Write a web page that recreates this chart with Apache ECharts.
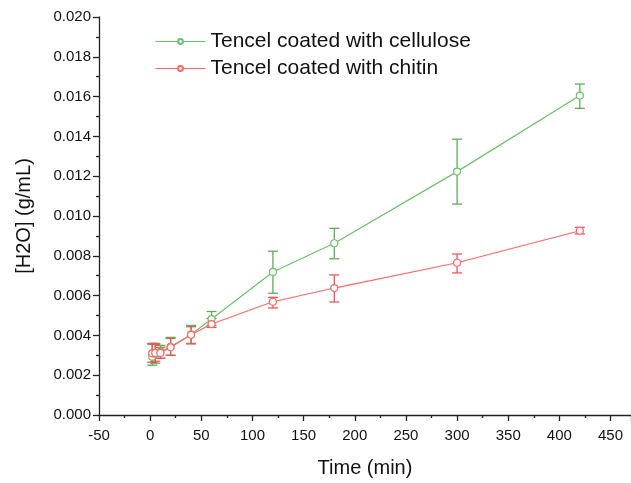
<!DOCTYPE html>
<html>
<head>
<meta charset="utf-8">
<script src="https://cdn.jsdelivr.net/npm/echarts@6/dist/echarts.min.js"></script>
<style>
  html, body { margin: 0; padding: 0; background: #fff; }
  #chart { width: 631px; height: 483px; }
</style>
</head>
<body>
<div id="chart"></div>
<script>
// time points (min)
const times = [2, 5, 10, 20, 40, 60, 120, 180, 300, 420];

// Tencel coated with cellulose
const celluloseMean = [0.00293, 0.00307, 0.00318, 0.00343, 0.00405, 0.00482, 0.00719, 0.00863, 0.01223, 0.01605];
const celluloseLow  = [0.00250, 0.00260, 0.00285, 0.00300, 0.00360, 0.00450, 0.00612, 0.00785, 0.01060, 0.01541];
const celluloseHigh = [0.00355, 0.00360, 0.00350, 0.00390, 0.00450, 0.00520, 0.00823, 0.00938, 0.01386, 0.01663];

// Tencel coated with chitin
const chitinMean = [0.00310, 0.00312, 0.00312, 0.00340, 0.00403, 0.00457, 0.00569, 0.00638, 0.00765, 0.00926];
const chitinLow  = [0.00265, 0.00270, 0.00285, 0.00300, 0.00357, 0.00440, 0.00538, 0.00568, 0.00714, 0.00910];
const chitinHigh = [0.00360, 0.00355, 0.00340, 0.00385, 0.00444, 0.00485, 0.00591, 0.00704, 0.00809, 0.00943];

const names = ['Tencel coated with cellulose', 'Tencel coated with chitin'];
const green = '#6cbf6c';
const red = '#ff6666';

const pairs = (ys) => times.map((t, i) => [t, ys[i]]);
const bars = (lo, hi) => times.map((t, i) => [t, lo[i], hi[i]]);

const errorBar = (name, color, lo, hi) => ({
    name: name + ' err',
    type: 'custom',
    z: 1,
    data: bars(lo, hi),
    encode: {x: 0, y: [1, 2]},
    renderItem: (params, api) => {
        const top = api.coord([api.value(0), api.value(2)]);
        const bot = api.coord([api.value(0), api.value(1)]);
        const w = 5;
        const style = {stroke: color, lineWidth: 1.3};
        return {
            type: 'group',
            children: [
                {type: 'line', shape: {x1: top[0], y1: top[1], x2: bot[0], y2: bot[1]}, style},
                {type: 'line', shape: {x1: top[0] - w, y1: top[1], x2: top[0] + w, y2: top[1]}, style},
                {type: 'line', shape: {x1: bot[0] - w, y1: bot[1], x2: bot[0] + w, y2: bot[1]}, style}
            ]
        };
    }
});

const lineSeries = (name, color, ys) => ({
    name,
    type: 'line',
    z: 3,
    data: pairs(ys),
    symbol: 'circle',
    symbolSize: 7,
    showAllSymbol: true,
    lineStyle: {color, width: 1.2},
    itemStyle: {color: '#fff', borderColor: color, borderWidth: 1.2}
});

const axisText = {color: '#111', fontFamily: 'Liberation Sans', fontSize: 15};
const axisCommon = {
    axisLine: {show: true, onZero: false, lineStyle: {color: '#222', width: 1.3}},
    axisTick: {show: true, inside: false, length: 6, lineStyle: {color: '#222', width: 1.3}},
    minorTick: {show: true, splitNumber: 2, length: 3, lineStyle: {color: '#222', width: 1.3}},
    splitLine: {show: false},
    nameTextStyle: {color: '#111', fontFamily: 'Liberation Sans', fontSize: 20}
};

const option = {
    animation: false,
    backgroundColor: '#fff',
    grid: {left: 99, right: 0, top: 17, bottom: 68},
    legend: {
        data: names,
        orient: 'vertical',
        left: 150,
        top: 26,
        itemGap: 6,
        itemWidth: 50,
        itemHeight: 6,
        lineStyle: {width: 1},
        textStyle: {color: '#111', fontFamily: 'Liberation Sans', fontSize: 21}
    },
    xAxis: {
        type: 'value',
        min: -50,
        max: 470,
        interval: 50,
        name: 'Time (min)',
        nameLocation: 'middle',
        nameGap: 43,
        axisLabel: Object.assign({margin: 13, showMaxLabel: false}, axisText),
        ...axisCommon
    },
    yAxis: {
        type: 'value',
        min: 0,
        max: 0.02,
        interval: 0.002,
        name: '[H2O] (g/mL)',
        nameLocation: 'middle',
        nameGap: 65,
        axisLabel: Object.assign({margin: 8, formatter: (v) => v.toFixed(3)}, axisText),
        ...axisCommon
    },
    series: [
        errorBar(names[0], '#5aae5a', celluloseLow, celluloseHigh),
        errorBar(names[1], '#f25555', chitinLow, chitinHigh),
        lineSeries(names[0], green, celluloseMean),
        lineSeries(names[1], red, chitinMean)
    ]
};

const myChart = echarts.init(document.getElementById('chart'), null, {renderer: 'canvas'});
myChart.setOption(option);
</script>
</body>
</html>
